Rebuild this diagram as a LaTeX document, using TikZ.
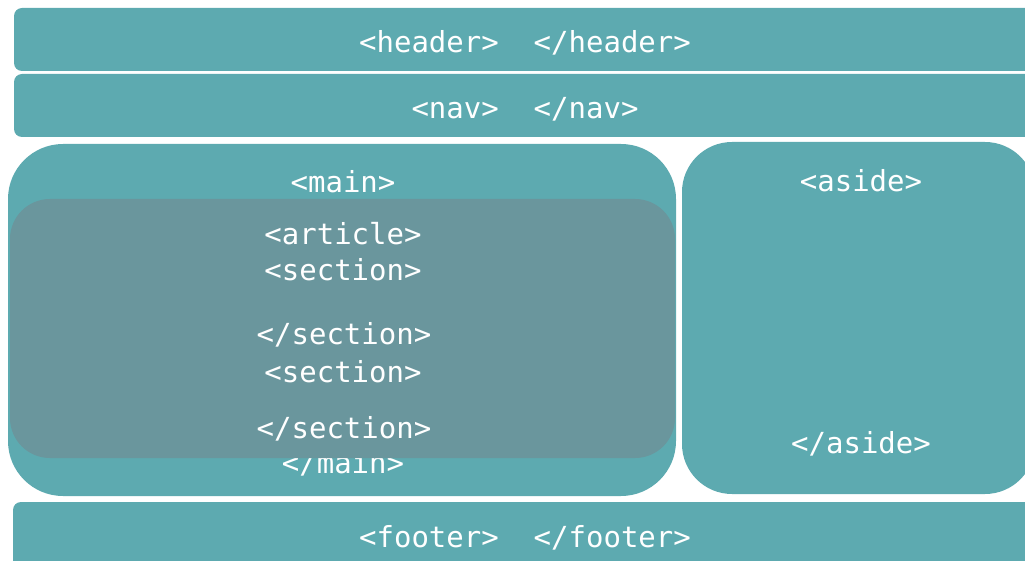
\documentclass[tikz,border=0pt]{standalone}
\usepackage{fontspec}
\setmonofont{DejaVu Sans Mono}
\definecolor{teal1}{HTML}{5DAAB0}
\definecolor{teal2}{HTML}{6A969D}
\begin{document}
\begin{tikzpicture}[x=1pt,y=-1pt,
  panel/.style={fill=teal1,draw=none},
  inner/.style={fill=teal2,draw=none},
  tag/.style={text=white,font=\ttfamily\fontsize{29}{30}\selectfont,anchor=base,inner sep=0pt}]
\useasboundingbox (0,0) rectangle (1025,561);
\clip (0,0) rectangle (1025,561);
% boxes
\path[panel,rounded corners=8pt] (14,8) rectangle (1045,71);
\path[panel,rounded corners=8pt] (14,74) rectangle (1045,137);
\path[panel,rounded corners=55pt] (8,144) rectangle (676,496);
\path[panel,rounded corners=50pt] (682,142) rectangle (1035,494);
\path[panel,rounded corners=8pt] (13,502) rectangle (1045,600);
% texts
\node[tag] (header) at (525,53) {<header>\ \ </header>};
\node[tag] (nav) at (525,119) {<nav>\ \ </nav>};
\node[tag] (main) at (343,193) {<main>};
\node[tag] (mainend) at (343,473) {</main>};
\path[inner,rounded corners=40pt] (10,199) rectangle (675,458);
\node[tag] (article) at (343,245) {<article>};
\node[tag] (sec1) at (343,281) {<section>};
\node[tag] (sec1end) at (344,344) {</section>};
\node[tag] (sec2) at (343,382) {<section>};
\node[tag] (sec2end) at (344,438) {</section>};
\node[tag] (aside) at (861,192) {<aside>};
\node[tag] (asideend) at (861,453) {</aside>};
\node[tag] (footer) at (525,547) {<footer>\ \ </footer>};
\end{tikzpicture}
\end{document}
